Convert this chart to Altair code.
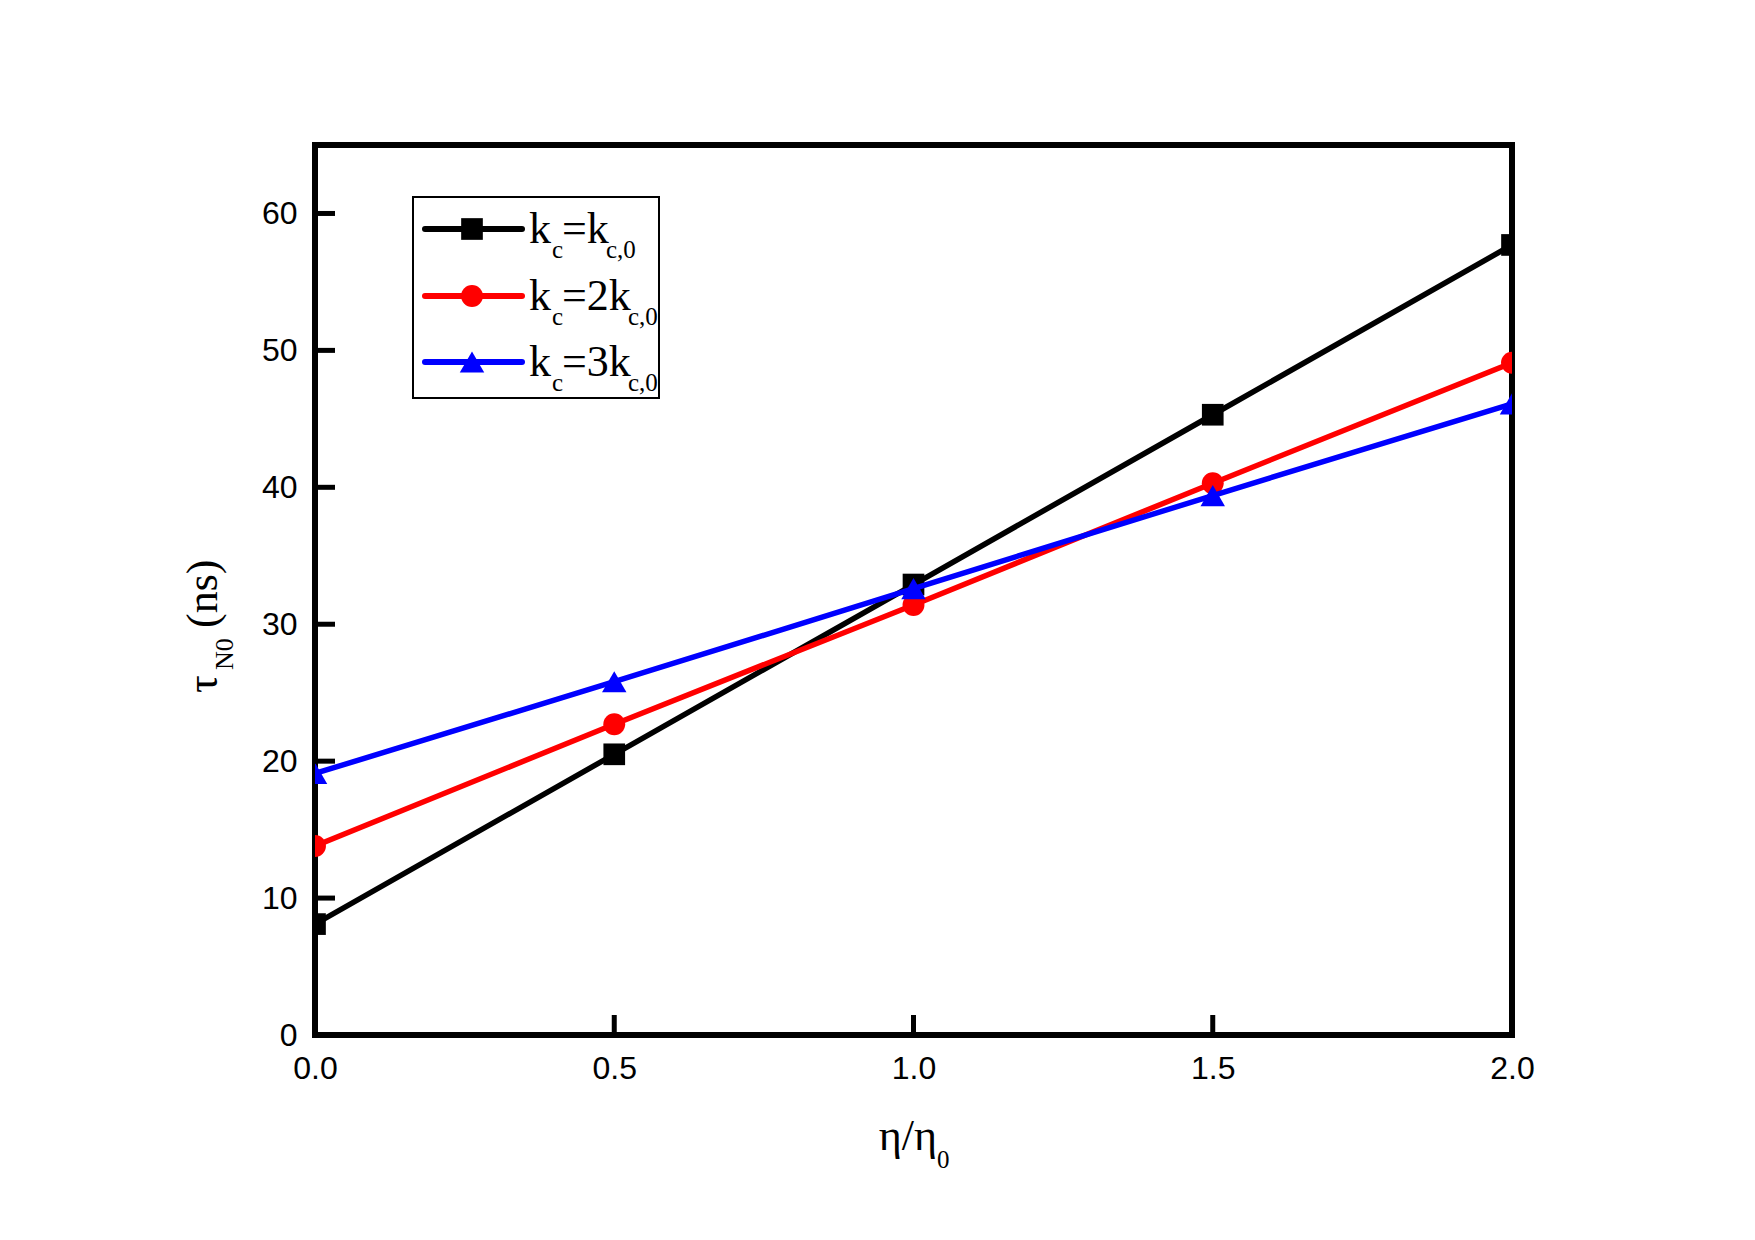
import altair as alt
import pandas as pd

# ---- data ----
x_vals = [0.0, 0.5, 1.0, 1.5, 2.0]
black_vals = [8.1, 20.5, 32.9, 45.3, 57.7]
red_vals = [13.8, 22.7, 31.4, 40.3, 49.1]
blue_vals = [19.1, 25.8, 32.6, 39.4, 46.1]
series_keys = ["kc=kc0", "kc=2kc0", "kc=3kc0"]
series_colors = ["#000000", "#ff0000", "#0000ff"]
series_shapes = ["square", "circle", "triangle-up"]
series_sizes = [470, 480, 600]
legend_main = ["=k", "=2k", "=3k"]
x_ticks = [0.0, 0.5, 1.0, 1.5, 2.0]
y_ticks = [0, 10, 20, 30, 40, 50, 60]

W, H = 1197, 890
SERIF = "Liberation Serif"
SANS = "Liberation Sans"

xs = alt.Scale(domain=[0, 2], nice=False, zero=False)
ys = alt.Scale(domain=[0, 65], nice=False, zero=False)
x_axis = alt.Axis(values=x_ticks, format=".1f", title=None, grid=False, domain=False,
                  ticks=False, labelFont=SANS, labelFontSize=32, labelColor="black",
                  labelPadding=18, labelBaseline="top", labelFlush=False)
y_axis = alt.Axis(values=y_ticks, format="d", title=None, grid=False, domain=False,
                  ticks=False, labelFont=SANS, labelFontSize=32, labelColor="black",
                  labelPadding=18, labelFlush=False)


def X():
    return alt.X("x:Q", scale=xs, axis=x_axis)


def Y():
    return alt.Y("y:Q", scale=ys, axis=y_axis)


def one():
    return pd.DataFrame({"d": [0]})


layers = []

# series
for key, vals, col, shp, sz in zip(series_keys, [black_vals, red_vals, blue_vals],
                                   series_colors, series_shapes, series_sizes):
    d = pd.DataFrame({"x": x_vals, "y": vals, "s": key})
    layers.append(alt.Chart(d).mark_line(color=col, strokeWidth=5.5, clip=True)
                  .encode(x=X(), y=Y()))
    layers.append(alt.Chart(d).mark_point(color=col, fill=col, filled=True, opacity=1,
                                          shape=shp, size=sz, clip=True)
                  .encode(x=X(), y=Y()))

# inward ticks
layers.append(alt.Chart(pd.DataFrame({"x": x_ticks})).mark_rule(color="black", strokeWidth=5)
              .encode(x=X(), y=alt.value(H), y2=alt.value(H - 20)))
layers.append(alt.Chart(pd.DataFrame({"y": y_ticks})).mark_rule(color="black", strokeWidth=5)
              .encode(y=Y(), x=alt.value(0), x2=alt.value(20)))

# legend box
layers.append(alt.Chart(one()).mark_rect(fill="white", stroke="black", strokeWidth=2)
              .encode(x=alt.value(98), x2=alt.value(344), y=alt.value(52), y2=alt.value(253)))

row_y = [84, 151, 217]
sub_x = [291, 313, 313]
for i in range(3):
    cy = row_y[i]
    col = series_colors[i]
    layers.append(alt.Chart(one()).mark_rule(color=col, strokeWidth=6, strokeCap="round")
                  .encode(x=alt.value(110), x2=alt.value(207), y=alt.value(cy)))
    layers.append(alt.Chart(one()).mark_point(color=col, fill=col, filled=True, opacity=1,
                                              shape=series_shapes[i], size=series_sizes[i])
                  .encode(x=alt.value(157), y=alt.value(cy)))
    pieces = [("k", 214, cy + 14, 44), ("c", 237, cy + 29, 25),
              (legend_main[i], 247, cy + 14, 44), ("c,0", sub_x[i], cy + 29, 25)]
    for txt, px, py, fs in pieces:
        layers.append(alt.Chart(one()).mark_text(text=txt, font=SERIF, fontSize=fs,
                                                 align="left", baseline="alphabetic",
                                                 color="black")
                      .encode(x=alt.value(px), y=alt.value(py)))

# x title: eta/eta_0
layers.append(alt.Chart(one()).mark_text(text="η/η", font=SERIF, fontSize=44, align="right",
                                         baseline="alphabetic", color="black")
              .encode(x=alt.value(622), y=alt.value(1005)))
layers.append(alt.Chart(one()).mark_text(text="0", font=SERIF, fontSize=25, align="left",
                                         baseline="alphabetic", color="black")
              .encode(x=alt.value(622), y=alt.value(1023)))

# y title: tau_N0 (ns), rotated
layers.append(alt.Chart(one()).mark_text(text="τ", font=SERIF, fontSize=44, align="left",
                                         baseline="alphabetic", angle=270, color="black")
              .encode(x=alt.value(-98), y=alt.value(548)))
layers.append(alt.Chart(one()).mark_text(text="N0", font=SERIF, fontSize=26, align="left",
                                         baseline="alphabetic", angle=270, color="black")
              .encode(x=alt.value(-82), y=alt.value(525)))
layers.append(alt.Chart(one()).mark_text(text="(ns)", font=SERIF, fontSize=44, align="left",
                                         baseline="alphabetic", angle=270, color="black")
              .encode(x=alt.value(-98), y=alt.value(483)))

chart = alt.layer(*layers).properties(
    width=W, height=H,
    autosize=alt.AutoSizeParams(type="none"),
    padding={"left": 307, "top": 137, "right": 200, "bottom": 180},
    background="white",
).configure_view(stroke="black", strokeWidth=6)

chart.save("out.html", embed_options={"renderer": "svg", "actions": False})
